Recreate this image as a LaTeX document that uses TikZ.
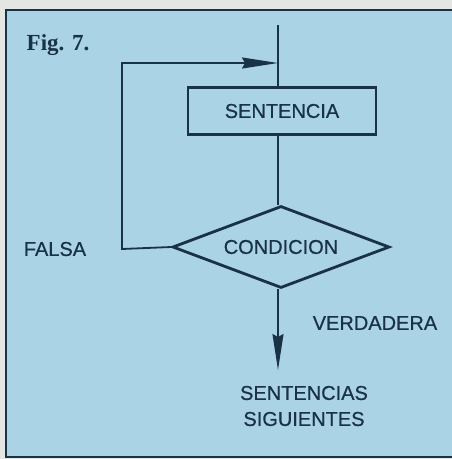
\documentclass[tikz,border=0pt]{standalone}
\usepackage{fontspec}
\setmainfont{Liberation Sans}
\newfontfamily\lblfont[FakeBold=0.6]{Liberation Sans}
\newfontfamily\figfont{Liberation Serif}
\usetikzlibrary{shapes.geometric,arrows.meta}
\definecolor{paper}{RGB}{228,230,228}
\definecolor{panel}{RGB}{170,211,229}
\definecolor{ink}{RGB}{26,50,70}
\tikzset{
  lbl/.style={font=\lblfont\fontsize{20}{24}\selectfont, text=ink, inner sep=0pt, align=center},
  flow/.style={draw=ink, line width=1.8pt},
  boxnode/.style={draw=ink, line width=2.8pt, minimum width=188pt, minimum height=47pt, inner sep=0pt, lbl},
  decnode/.style={diamond, aspect=2.65, draw=ink, line width=2.8pt, minimum width=217pt, minimum height=82pt, inner sep=0pt, lbl},
  tip/.style={-{Stealth[length=36pt,width=11pt,inset=3pt]}},
}
\begin{document}
\begin{tikzpicture}[x=1pt,y=-1pt]
\useasboundingbox (0,0) rectangle (452,459);
\fill[paper] (0,0) rectangle (452,459);
\fill[panel, draw=ink, line width=1.5pt] (6,10) rectangle (460,457);
\node[font=\figfont\bfseries\fontsize{23}{26}\selectfont, text=ink, inner sep=0pt] (fig) at (58,45) {Fig. 7.};
\coordinate (start) at (278,25);
\coordinate (join) at (278,63);
\node[boxnode] (sent) at (282,111) {SENTENCIA};
\node[decnode] (cond) at (281,247) {CONDICION};
\coordinate (corner1) at (122,249);
\coordinate (corner2) at (122,63);
\coordinate (endd) at (278,370);
\node[lbl] (falsa) at (55,249) {FALSA};
\node[lbl] (verd) at (375,323) {VERDADERA};
\node[lbl] (sig) at (304,406) {SENTENCIAS\\[2pt]SIGUIENTES};
\draw[flow] (start) -- (sent.north -| start);
\draw[flow] (sent.south -| start) -- (cond.north -| start);
\draw[flow, tip] (cond.west) -- (corner1) -- (corner2) -- (join);
\draw[flow, tip] (cond.south -| endd) -- (endd);
\end{tikzpicture}
\end{document}
